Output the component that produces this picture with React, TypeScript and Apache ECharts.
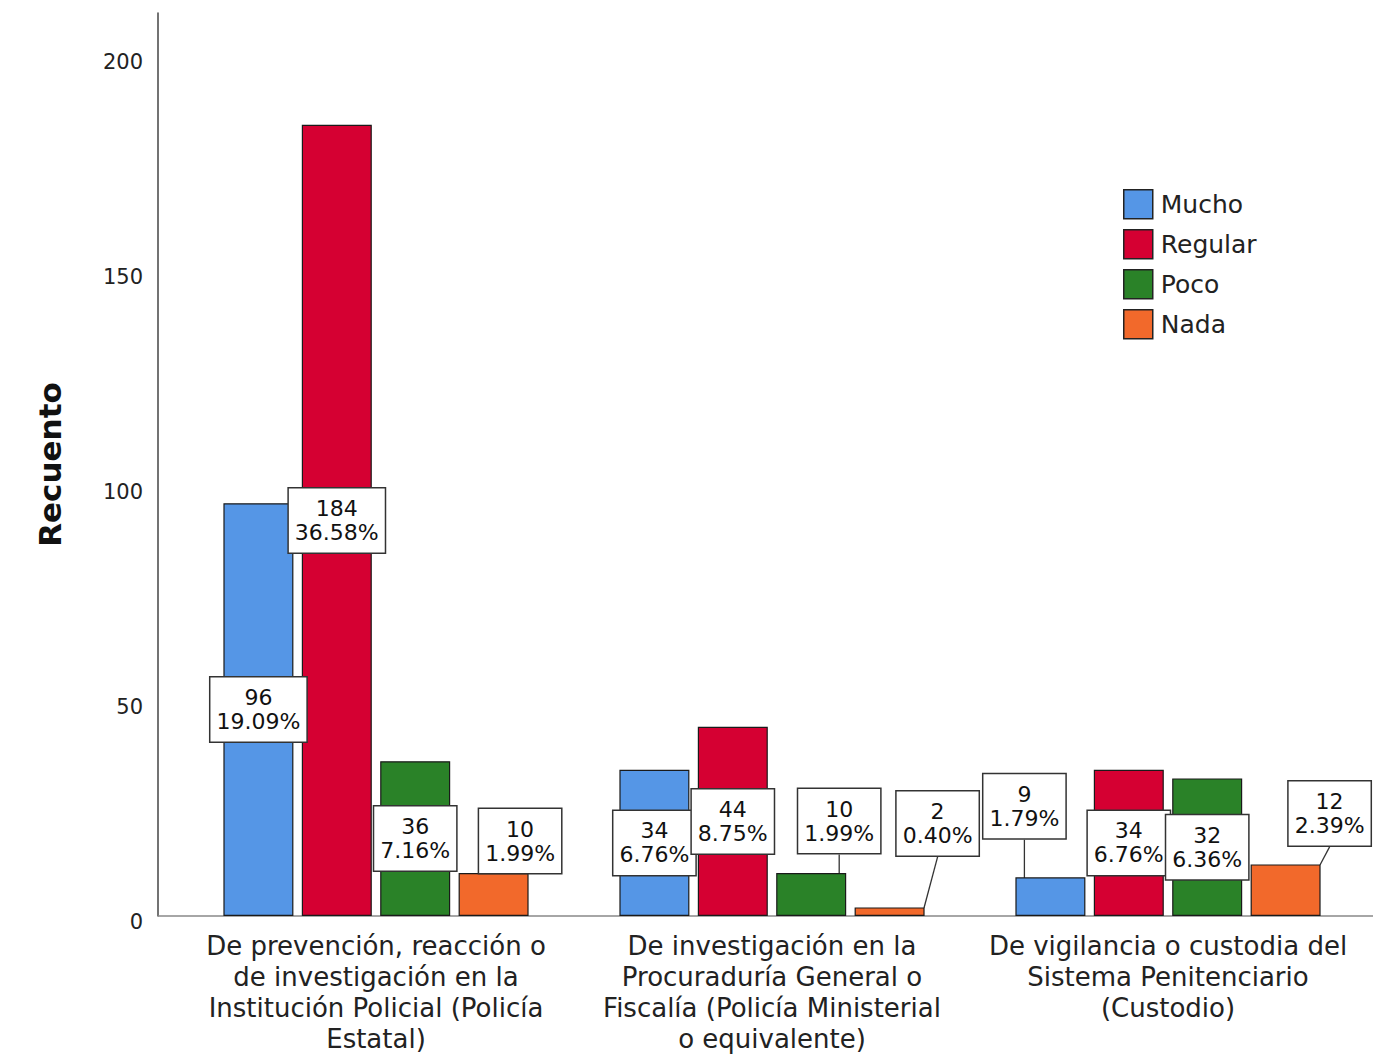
import React, { useEffect, useRef } from 'react';
import * as echarts from 'echarts';

const categories = [
  'De prevención, reacción o\nde investigación en la\nInstitución Policial (Policía\nEstatal)',
  'De investigación en la\nProcuraduría General o\nFiscalía (Policía Ministerial\no equivalente)',
  'De vigilancia o custodia del\nSistema Penitenciario\n(Custodio)',
];
const seriesNames = ['Mucho', 'Regular', 'Poco', 'Nada'];
const mucho = [96, 34, 9];
const regular = [184, 44, 34];
const poco = [36, 10, 32];
const nada = [10, 2, 12];
const yTicks = [0, 50, 100, 150, 200];
const yMax = 210;

const colors = ['#5596E6', '#D50032', '#2A8228', '#F2692B'];

// label placement (layout only): null = centred in bar; [dx, dy, line] = offset from bar top-centre
const placements: (null | [number, number, boolean])[][] = [
  [null, null, [-26, -71, true]],
  [null, null, null],
  [null, [28, -52, true], null],
  [[26.5, -32, false], [48, -84, true], [44, -51, true]],
];

const FONT = 'DejaVu Sans';

export default function App() {
  const ref = useRef<HTMLDivElement>(null);
  useEffect(() => {
    if (!ref.current) return;
    const chart = echarts.init(ref.current, undefined, { renderer: 'svg' });
    const allValues = [mucho, regular, poco, nada];
    const total = allValues.reduce((s, arr) => s + arr.reduce((a, b) => a + b, 0), 0);

    const series = allValues.map((vals, si) => ({
      name: seriesNames[si],
      type: 'bar',
      barWidth: 70,
      barGap: '12%',
      itemStyle: { color: colors[si], borderColor: '#1a1a1a', borderWidth: 1.2 },
      data: vals.map((v, di) => {
        const p = placements[si][di];
        return { value: v, labelLine: { show: !!(p && p[2]) } };
      }),
      label: {
        show: true,
        position: 'inside',
        formatter: (params: any) =>
          `${params.value}\n${((params.value / total) * 100).toFixed(2)}%`,
        fontFamily: FONT,
        fontSize: 22,
        lineHeight: 24,
        color: '#111',
        backgroundColor: '#fff',
        borderColor: '#333',
        borderWidth: 1.5,
        padding: [8, 6, 8, 6],
        align: 'center',
      },
      labelLine: { show: false, lineStyle: { color: '#333', width: 1.3 } },
      labelLayout: (params: any) => {
        const p = placements[si][params.dataIndex];
        const r = params.rect;
        if (!p) {
          return { x: r.x + r.width / 2, y: r.y + r.height / 2, align: 'center', verticalAlign: 'middle' };
        }
        return { x: r.x + r.width / 2 + p[0], y: r.y + p[1], align: 'center', verticalAlign: 'middle' };
      },
    }));

    chart.setOption({
      animation: false,
      backgroundColor: '#fff',
      textStyle: { fontFamily: FONT },
      grid: { left: 178, right: 7, top: 13, bottom: 1058 - 916, containLabel: false },
      legend: {
        data: seriesNames,
        orient: 'vertical',
        left: 1123,
        top: 189,
        itemWidth: 29,
        itemHeight: 29,
        itemGap: 9.5,
        padding: 0,
        icon: 'rect',
        itemStyle: { borderColor: '#222', borderWidth: 1.5 },
        textStyle: { fontFamily: FONT, fontSize: 25, color: '#222', padding: [0, 0, 0, 3] },
      },
      xAxis: {
        type: 'category',
        data: categories,
        axisLine: { show: false },
        axisTick: { show: false },
        axisLabel: {
          interval: 0,
          fontFamily: FONT,
          fontSize: 26,
          lineHeight: 31,
          color: '#222',
          margin: 14,
        },
      },
      yAxis: {
        type: 'value',
        min: 0,
        max: yMax,
        interval: 50,
        offset: 20,
        name: 'Recuento',
        nameLocation: 'middle',
        nameRotate: 90,
        nameGap: 93,
        nameTextStyle: { fontFamily: FONT, fontSize: 31, fontWeight: 'bold', color: '#111' },
        axisLine: { show: true, lineStyle: { color: '#444', width: 1.5 } },
        axisTick: { show: false },
        splitLine: { show: false },
        axisLabel: {
          formatter: (v: number) => (yTicks.includes(v) ? `{t|${v}}` : ''),
          margin: 15,
          rich: {
            t: { fontFamily: FONT, fontSize: 21, color: '#222', padding: [12, 0, 0, 0] },
          },
        },
      },
      graphic: [
        {
          type: 'line',
          z: 1,
          shape: { x1: 158, y1: 916, x2: 1373, y2: 916 },
          style: { stroke: '#888', lineWidth: 1.5 },
        },
      ],
      series,
    });
    return () => chart.dispose();
  }, []);
  return (
    <div
      ref={ref}
      style={{ position: 'fixed', left: 0, top: 0, width: 1373, height: 1058 }}
    />
  );
}
